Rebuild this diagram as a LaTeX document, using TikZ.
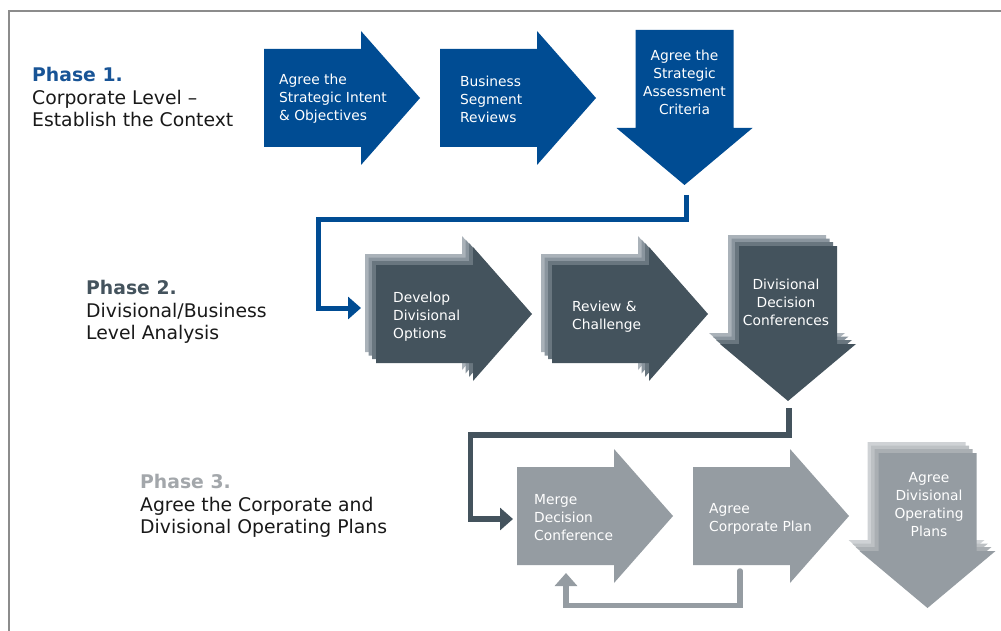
\documentclass[tikz,border=0pt]{standalone}
\usepackage{fontspec}
\setmainfont{DejaVu Sans}
\usetikzlibrary{arrows.meta}
\definecolor{pblue}{RGB}{0,76,147}
\definecolor{tblue}{RGB}{24,84,150}
\definecolor{slateA}{RGB}{68,83,93}
\definecolor{slateB}{RGB}{105,118,127}
\definecolor{slateC}{RGB}{138,149,158}
\definecolor{slateD}{RGB}{170,178,185}
\definecolor{greyA}{RGB}{149,156,162}
\definecolor{greyB}{RGB}{170,175,179}
\definecolor{greyC}{RGB}{189,193,196}
\definecolor{greyD}{RGB}{207,210,213}
\definecolor{ttext}{RGB}{163,167,171}
\definecolor{frame}{RGB}{140,140,140}
\definecolor{ink}{RGB}{25,25,25}
% right arrow: colour, left x, centre y
\newcommand\rarr[3]{\fill[#1] (#2,#3-49) -- ++(97,0) -- ++(0,-18) -- ++(59,67) -- ++(-59,67) -- ++(0,-18) -- ++(-97,0) -- cycle;}
% down arrow: colour, centre x, top y
\newcommand\darr[3]{\fill[#1] (#2-49,#3) -- ++(98,0) -- ++(0,98) -- ++(19,0) -- ++(-68,57) -- ++(-68,-57) -- ++(19,0) -- cycle;}
\begin{document}
\begin{tikzpicture}[x=1pt,y=-1pt,
  phasetxt/.style={anchor=west,align=left,inner sep=0pt,text=ink,font=\fontsize{18.8}{22.5}\selectfont},
  arrtxt/.style={anchor=west,align=left,inner sep=0pt,text=white,font=\fontsize{13.8}{18}\selectfont},
  arrtxtc/.style={anchor=center,align=center,inner sep=0pt,text=white,font=\fontsize{13.8}{18}\selectfont},
  conn/.style={line width=5.5pt,miter limit=10,-{Triangle[length=13pt,width=22pt]}}]
\useasboundingbox (0,0) rectangle (1001,631);
\fill[white] (0,0) rectangle (1001,631);
\draw[frame,line width=2pt] (9,632) -- (9,11) -- (1002,11);

% Phase 1
\rarr{pblue}{264}{98}
\rarr{pblue}{440}{98}
\darr{pblue}{684.5}{30}
\node[arrtxt] (a1) at (279,99) {Agree the\\Strategic Intent\\\& Objectives};
\node[arrtxt] (a2) at (460,99) {Business\\Segment\\Reviews};
\node[arrtxtc] (a3) at (684.5,82) {Agree the\\Strategic\\Assessment\\Criteria};
\node[phasetxt] (p1) at (32,97) {\textcolor{tblue}{\bfseries Phase 1.}\\Corporate Level –\\Establish the Context};

% Phase 2
\foreach \o/\c in {11/slateD,7.5/slateC,4/slateB,0/slateA}{
  \rarr{\c}{376-\o}{314-\o}
  \rarr{\c}{552-\o}{314-\o}
  \darr{\c}{788-\o}{246-\o}
}
\node[arrtxt] (b1) at (393,317) {Develop\\Divisional\\Options};
\node[arrtxt] (b2) at (572,317) {Review \&\\Challenge};
\node[arrtxtc] (b3) at (786,302) {Divisional\\Decision\\Conferences};
\node[phasetxt] (p2) at (86,312) {\textcolor{slateA}{\bfseries Phase 2.}\\Divisional/Business\\Level Analysis};

% Phase 3
\rarr{greyA}{517}{516}
\rarr{greyA}{693}{516}
\foreach \o/\c in {11/greyD,7.5/greyC,4/greyB,0/greyA}{
  \darr{\c}{927.5-\o}{453-\o}
}
\node[arrtxt] (c1) at (534,518) {Merge\\Decision\\Conference};
\node[arrtxt] (c2) at (709,519) {Agree\\Corporate Plan};
\node[arrtxtc] (c3) at (929,505) {Agree\\Divisional\\Operating\\Plans};
\node[phasetxt] (p3) at (140,506) {\textcolor{ttext}{\bfseries Phase 3.}\\Agree the Corporate and\\Divisional Operating Plans};

% connectors
\coordinate (s1) at (686,195);
\coordinate (e1) at (361,308);
\draw[conn,pblue,line width=5pt] (s1) -- (686,220) -- (318,220) -- (318,308) -- (e1);
\coordinate (s2) at (789,408);
\coordinate (e2) at (513,519);
\draw[conn,slateA] (s2) -- (789,435) -- (470.5,435) -- (470.5,519) -- (e2);
\coordinate (s3) at (740,571);
\coordinate (e3) at (566,573);
\draw[conn,greyA,line cap=round] (s3) -- (740,605.5) -- (566,605.5) -- (e3);
\end{tikzpicture}
\end{document}
